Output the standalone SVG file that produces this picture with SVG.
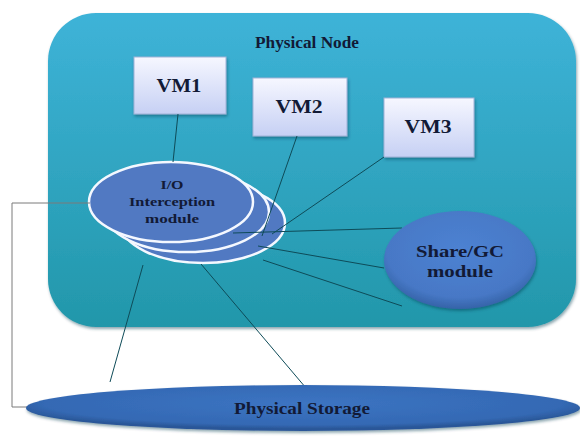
<svg xmlns="http://www.w3.org/2000/svg" width="580" height="436" viewBox="0 0 580 436">
<defs>
<linearGradient id="gNode" x1="0" y1="0" x2="0" y2="1">
<stop offset="0" stop-color="#3eb3d8"/>
<stop offset="1" stop-color="#2297aa"/>
</linearGradient>
<linearGradient id="gVM" x1="0" y1="0" x2="0" y2="1">
<stop offset="0" stop-color="#f6f7ff"/>
<stop offset="1" stop-color="#c6d0f4"/>
</linearGradient>
<radialGradient id="gBlue" cx="0.5" cy="0.4" r="0.6">
<stop offset="0" stop-color="#4d82d2"/>
<stop offset="0.8" stop-color="#4778c6"/>
<stop offset="1" stop-color="#3563a8"/>
</radialGradient>
<radialGradient id="gStore" cx="0.5" cy="0.4" r="0.55">
<stop offset="0" stop-color="#3c74c2"/>
<stop offset="0.85" stop-color="#3469b4"/>
<stop offset="1" stop-color="#2a5798"/>
</radialGradient>
<filter id="sh" x="-10%" y="-10%" width="120%" height="130%">
<feDropShadow dx="1" dy="2" stdDeviation="1.5" flood-color="#0b3c50" flood-opacity="0.45"/>
</filter>
</defs>
<style>
.t{font-family:"Liberation Serif","Times New Roman",serif;font-weight:bold;fill:#121a36;text-anchor:middle}
.vm{fill:url(#gVM);stroke:#9fb3d8;stroke-width:1}
.io{fill:#5179c2;stroke:#f4f8ff;stroke-width:2.5}
.c{stroke:#0e4b58;stroke-width:1;fill:none}
.b{stroke:#7a7a7a;stroke-width:1;fill:none}
</style>
<g id="physical-node">
<rect x="48" y="13" width="528" height="314" rx="48" ry="48" fill="url(#gNode)" filter="url(#sh)"/>
<text class="t" x="307" y="48" font-size="16" textLength="104" lengthAdjust="spacingAndGlyphs">Physical Node</text>
</g>
<g id="vm1">
<rect class="vm" x="134" y="57" width="92" height="57" filter="url(#sh)"/>
<text class="t" x="179" y="92" font-size="18" textLength="45" lengthAdjust="spacingAndGlyphs">VM1</text>
</g>
<g id="vm2">
<rect class="vm" x="253" y="78" width="94" height="58" filter="url(#sh)"/>
<text class="t" x="299" y="113" font-size="18" textLength="47" lengthAdjust="spacingAndGlyphs">VM2</text>
</g>
<g id="vm3">
<rect class="vm" x="384" y="98" width="90" height="59" filter="url(#sh)"/>
<text class="t" x="428" y="133" font-size="18" textLength="47" lengthAdjust="spacingAndGlyphs">VM3</text>
</g>
<g id="io-module">
<ellipse class="io" cx="203" cy="223" rx="82" ry="40"/>
<ellipse class="io" cx="187" cy="212" rx="82" ry="40"/>
<ellipse class="io" cx="171" cy="202" rx="82" ry="40"/>
<text class="t" x="172" y="189" font-size="13" textLength="23" lengthAdjust="spacingAndGlyphs">I/O</text>
<text class="t" x="172" y="206" font-size="13" textLength="86" lengthAdjust="spacingAndGlyphs">Interception</text>
<text class="t" x="172" y="223" font-size="13" textLength="54" lengthAdjust="spacingAndGlyphs">module</text>
</g>
<g id="connectors">
<line class="c" x1="178" y1="114" x2="173" y2="162"/>
<line class="c" x1="297" y1="136" x2="262" y2="236"/>
<line class="c" x1="384" y1="157" x2="272" y2="234"/>
<line class="c" x1="233" y1="233" x2="402" y2="228"/>
<line class="c" x1="258" y1="246" x2="384" y2="268"/>
<line class="c" x1="263" y1="260" x2="402" y2="306"/>
<line class="c" x1="143" y1="265" x2="110" y2="382"/>
<line class="c" x1="201" y1="264" x2="306" y2="388"/>
<polyline class="b" points="90,203 12,203 12,407 28,407"/>
</g>
<g id="share-gc">
<ellipse cx="460" cy="260" rx="76" ry="49" fill="url(#gBlue)" filter="url(#sh)"/>
<text class="t" x="460" y="257" font-size="17" textLength="88" lengthAdjust="spacingAndGlyphs">Share/GC</text>
<text class="t" x="460" y="277" font-size="17" textLength="66" lengthAdjust="spacingAndGlyphs">module</text>
</g>
<g id="physical-storage">
<ellipse cx="303" cy="408" rx="277" ry="23" fill="url(#gStore)" filter="url(#sh)"/>
<text class="t" x="302" y="414" font-size="17" textLength="136" lengthAdjust="spacingAndGlyphs">Physical Storage</text>
</g>
</svg>
